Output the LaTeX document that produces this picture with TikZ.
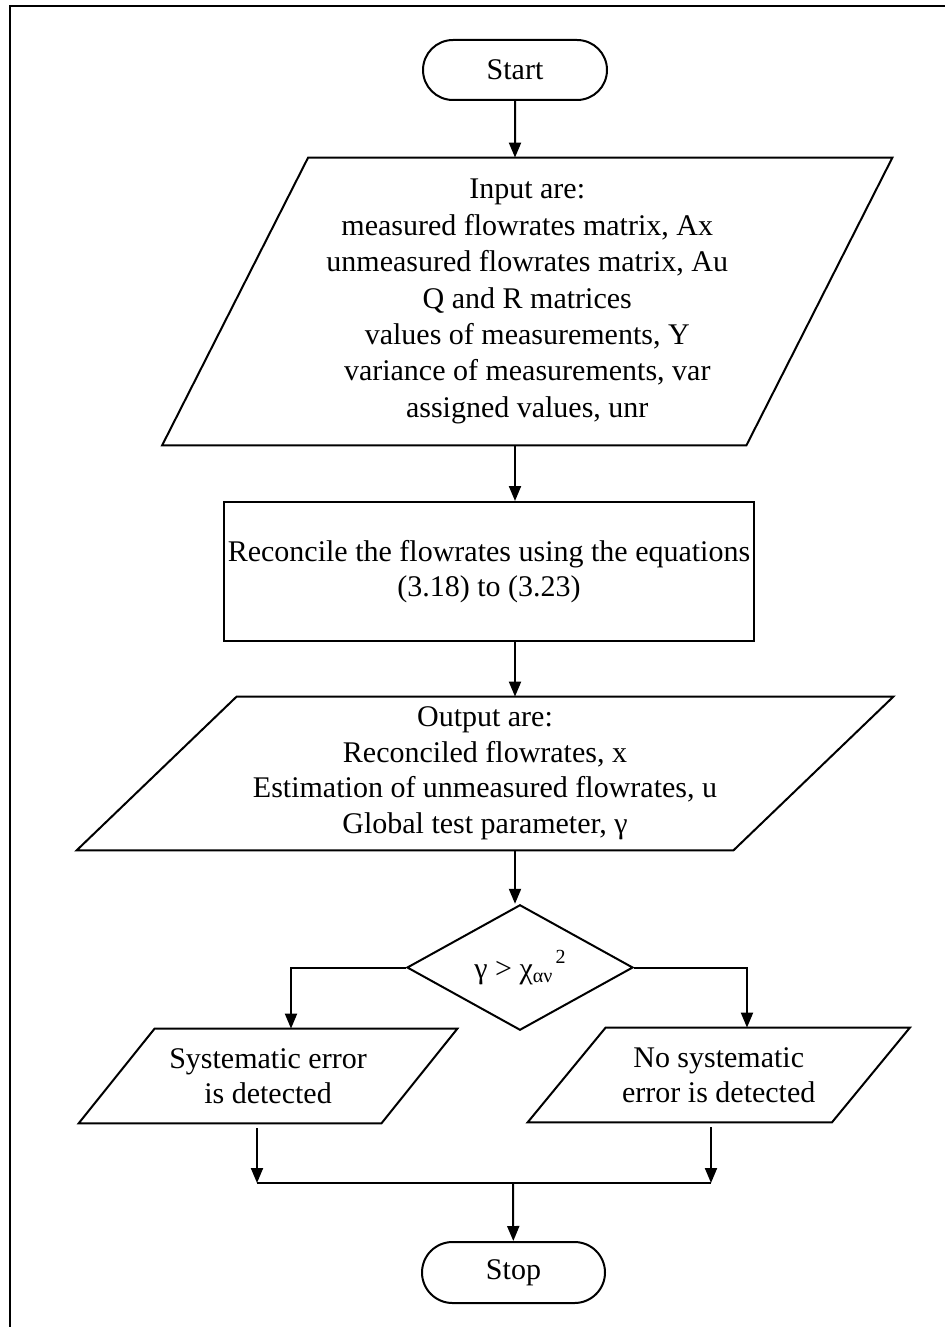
\documentclass[tikz,border=0pt]{standalone}
\usepackage{fontspec}
\setmainfont{Liberation Serif}
\usetikzlibrary{shapes.geometric,shapes.misc,arrows.meta}
% slanted input/output outline around a plain rectangular node
\newcommand\paraoutline[2]{%
  \draw[outline] ([xshift=#2]#1.north west) -- ([xshift=#2]#1.north east)
    -- ([xshift=-#2]#1.south east) -- ([xshift=-#2]#1.south west) -- cycle;}
\begin{document}
\begin{tikzpicture}[x=0.5pt,y=-0.5pt,
  outline/.style={draw=black,line width=1pt},
  txt/.style={font=\fontsize{15}{17.75}\selectfont,align=center,inner sep=0pt},
  terminal/.style={txt,outline,rounded rectangle,minimum width=92pt,minimum height=30pt},
  procbox/.style={txt,outline,rectangle,minimum width=265pt,minimum height=69.5pt},
  iobox/.style={txt,rectangle,draw=none},
  decision/.style={txt,outline,diamond,minimum width=113pt,minimum height=60.5pt},
  arr/.style={line width=1pt,-{Triangle[width=6pt,length=7.5pt]}},
  link/.style={line width=1pt}]
\useasboundingbox (0,0) rectangle (945,1327);

% frame (top and left rules)
\coordinate (fbl) at (10,1327);
\coordinate (ftl) at (10,6);
\coordinate (ftr) at (945,6);
\draw[line width=1.2pt] (fbl) -- (ftl) -- (ftr);

% nodes
\node[terminal] (start) at (515,70) {Start};

\node[iobox,minimum width=291.75pt,minimum height=143.5pt,
      font=\fontsize{15}{18.2}\selectfont] (in) at (527.25,301.5)
  {Input are:\\measured flowrates matrix, Ax\\unmeasured flowrates matrix, Au\\
   Q and R matrices\\values of measurements, Y\\variance of measurements, var\\
   assigned values, unr};
\paraoutline{in}{36.5pt}

\node[procbox] (rc) at (489,571.5)
  {Reconcile the flowrates using the equations\\(3.18) to (3.23)};

\node[iobox,minimum width=328pt,minimum height=76.5pt] (out) at (485,773.5)
  {Output are:\\Reconciled flowrates, x\\Estimation of unmeasured flowrates, u\\
   Global test parameter, γ};
\paraoutline{out}{40pt}

\node[decision] (dc) at (520,967.5)
  {γ > χ\raisebox{-0.35ex}{\fontsize{10}{12}\selectfont αν}\raisebox{1.05ex}{\fontsize{10}{12}\selectfont\,2}};

\node[iobox,minimum width=151pt,minimum height=47pt] (lp) at (268,1076)
  {Systematic error\\is detected};
\paraoutline{lp}{19pt}

\node[iobox,minimum width=151.75pt,minimum height=47pt] (rp) at (718.75,1075)
  {No systematic\\error is detected};
\paraoutline{rp}{19.5pt}

\node[terminal,minimum width=91.5pt,minimum height=30.5pt] (stop) at (513.5,1272.5) {Stop};

% connector guides
\coordinate (lx) at (291,968);
\coordinate (rx) at (747,968);
\coordinate (ml) at (257,1183);
\coordinate (mr) at (711,1183);
\coordinate (mj) at (513,1183);

% connectors
\draw[arr] (start) -- (start |- in.north);
\draw[arr] (start |- in.south) -- (start |- rc.north);
\draw[arr] (start |- rc.south) -- (start |- out.north);
\draw[arr] (start |- out.south) -- (start |- dc.north);
\draw[arr] (dc.west) -| (lx |- lp.north);
\draw[arr] (dc.east) -| (rx |- rp.north);
\draw[arr,shorten <=2.5pt] (ml |- lp.south) -- (ml);
\draw[arr,shorten <=2.5pt] (mr |- rp.south) -- (mr);
\draw[link] (ml) -- (mr);
\draw[arr] (mj) -- (stop);
\end{tikzpicture}
\end{document}
